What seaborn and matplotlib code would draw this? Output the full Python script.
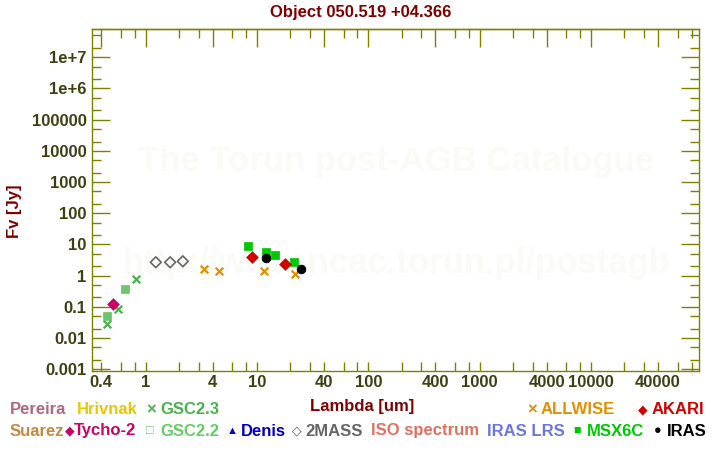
import matplotlib
matplotlib.use("Agg")
import matplotlib.pyplot as plt
import seaborn as sns
import pandas as pd
import numpy as np

# ---- data (wavelength in um, flux in Jy) ----
gsc23_lam = [0.447, 0.561, 0.813]
gsc23_flux = [0.0277, 0.0838, 0.767]
gsc22_lam = [0.447, 0.648]
gsc22_flux = [0.051, 0.366]
tycho_lam = [0.506]
tycho_flux = [0.124]
mass2_lam = [1.235, 1.662, 2.159]
mass2_flux = [2.69, 2.69, 2.89]
allwise_lam = [3.35, 4.6, 11.56, 22.1]
allwise_flux = [1.60, 1.38, 1.38, 1.11]
msx_lam = [8.28, 12.13, 14.65, 21.3]
msx_flux = [8.95, 5.75, 4.51, 2.69]
akari_lam = [9.0, 18.0]
akari_flux = [3.89, 2.37]
iras_lam = [12.0, 25.0]
iras_flux = [3.61, 1.60]

title = "Object 050.519 +04.366"
xticks = [0.4, 1, 4, 10, 40, 100, 400, 1000, 4000, 10000, 40000]
xtick_labels = ["0.4", "1", "4", "10", "40", "100", "400", "1000", "4000", "10000", "40000"]
yticks = [1e-3, 1e-2, 1e-1, 1, 10, 100, 1e3, 1e4, 1e5, 1e6, 1e7]
ytick_labels = ["0.001", "0.01", "0.1", "1", "10", "100", "1000", "10000", "100000", "1e+6", "1e+7"]

sns.set_style("white")
plt.rcParams['font.family'] = ['Liberation Sans', 'DejaVu Sans']
plt.rcParams['font.weight'] = 'bold'

fig = plt.figure(figsize=(7.2, 4.5), dpi=100)
ax = fig.add_axes([92 / 720, 1 - 371 / 450, (699 - 92) / 720, (371 - 29.3) / 450])

AX = '#808000'
TL = '#3f3f14'

# watermarks
ax.text(0.5, 1 - (161.7 - 29.3) / (371 - 29.3), "The Torun post-AGB Catalogue", transform=ax.transAxes,
        ha='center', va='center', fontsize=25, fontweight='bold', color='#fafaf6', zorder=0)
ax.text(0.502, 1 - (263.3 - 29.3) / (371 - 29.3), "http://www.ncac.torun.pl/postagb", transform=ax.transAxes,
        ha='center', va='center', fontsize=25, fontweight='bold', color='#fafaf6', zorder=0)

def series(lam, flux, **kw):
    df = pd.DataFrame({"lam": lam, "flux": flux})
    sns.scatterplot(data=df, x="lam", y="flux", ax=ax, legend=False, zorder=3, **kw)

series(gsc23_lam, gsc23_flux, marker='x', s=30, color='#4caf50', linewidth=1.6)
series(gsc22_lam, gsc22_flux, marker='s', s=34, color='#5cbf5c', edgecolor='#5cbf5c', alpha=0.9)
series(tycho_lam, tycho_flux, marker='D', s=36, color='#cc0066', edgecolor='#cc0066')
series(mass2_lam, mass2_flux, marker='D', s=30, facecolor='none', edgecolor='#666666', linewidth=1.2)
series(allwise_lam, allwise_flux, marker='x', s=30, color='#e09000', linewidth=1.6)
series(msx_lam, msx_flux, marker='s', s=40, color='#00c800', edgecolor='#00c800')
series(akari_lam, akari_flux, marker='D', s=36, color='#d00000', edgecolor='#d00000')
series(iras_lam, iras_flux, marker='o', s=40, color='black', edgecolor='black')

ax.set_xscale('log')
ax.set_yscale('log')
ax.set_xlim(0.330, 93400)
ax.set_ylim(8.8e-4, 7.9e7)

ax.set_xticks(xticks)
ax.set_xticklabels(xtick_labels)
xminor = [m * 10.0 ** k for k in range(-1, 5) for m in (2, 3, 6, 8)]
ax.set_xticks([v for v in xminor if 0.33 < v < 93400], minor=True)
ax.set_yticks(yticks)
ax.set_yticklabels(ytick_labels)
yminor = [m * 10.0 ** k for k in range(-4, 8) for m in (2, 5)]
ax.set_yticks([v for v in yminor if 8.8e-4 < v < 7.9e7], minor=True)

ax.tick_params(axis='x', which='both', direction='in', length=6.5, width=1, color=AX,
               bottom=True, top=False, labelsize=12, labelcolor=TL, pad=3)
ax.tick_params(axis='y', which='major', direction='in', length=13, width=1, color=AX,
               left=True, right=True, labelsize=12, labelcolor=TL, pad=4)
ax.tick_params(axis='y', which='minor', direction='in', length=6.5, width=1, color=AX,
               left=True, right=True)
for lab in ax.get_xticklabels() + ax.get_yticklabels():
    lab.set_fontweight('bold')

top = ax.secondary_xaxis('top')
top.set_xticks(xticks)
top.set_xticks([v for v in xminor if 0.33 < v < 93400], minor=True)
top.tick_params(axis='x', which='major', direction='in', length=13, width=1, color=AX, labeltop=False)
top.tick_params(axis='x', which='minor', direction='in', length=6.5, width=1, color=AX)
top.spines['top'].set_color(AX)
top.spines['top'].set_linewidth(1)

for sp in ax.spines.values():
    sp.set_color(AX)
    sp.set_linewidth(1)

ax.set_xlabel("")
ax.set_ylabel("")

fig.text(361 / 720, 1 - 12 / 450, title, ha='center', va='center', fontsize=12, fontweight='bold', color='#800000')
fig.text(14 / 720, 1 - 211 / 450, "Fv [Jy]", rotation=90, ha='center', va='center', fontsize=12,
         fontweight='bold', color='#800000')
fig.text(362 / 720, 1 - 406 / 450, "Lambda [um]", ha='center', va='center', fontsize=12, fontweight='bold',
         color='#800000')

def t(x, y, s, c, fs=12):
    fig.text(x / 720, 1 - y / 450, s, ha='left', va='center', fontsize=fs, fontweight='bold', color=c,
             family=['Liberation Sans', 'DejaVu Sans'])

r1, r2 = 410, 431
t(10, r1, "Pereira", '#b06880')
t(77, r1, "Hrivnak", '#e6c800')
t(146, r1, "×", '#4caf50', 12)
t(160, r1, "GSC2.3", '#4caf50')
t(527, r1, "×", '#e09000', 12)
t(541, r1, "ALLWISE", '#e09000')
t(638, r1, "◆", '#d00000', 9)
t(652, r1, "AKARI", '#d00000')

t(10, r2, "Suarez", '#c08a40')
t(65, r2, "◆", '#cc0066', 9)
t(74, r2, "Tycho-2", '#cc0066')
t(146, r2, "□", '#66cc66', 9)
t(160, r2, "GSC2.2", '#66cc66')
t(227, r2, "▲", '#0000c0', 8)
t(241, r2, "Denis", '#0000c0')
t(292, r2, "◇", '#555555', 9)
t(305, r2, "2MASS", '#666666')
t(371, r2, "ISO spectrum", '#e07060')
t(487, r2, "IRAS LRS", '#6a78dd')
t(573, r2, "■", '#00c800', 9)
t(587, r2, "MSX6C", '#00c800')
t(654, r2, "●", '#000000', 9)
t(667, r2, "IRAS", '#000000')

fig.savefig("out.png", dpi=100)
